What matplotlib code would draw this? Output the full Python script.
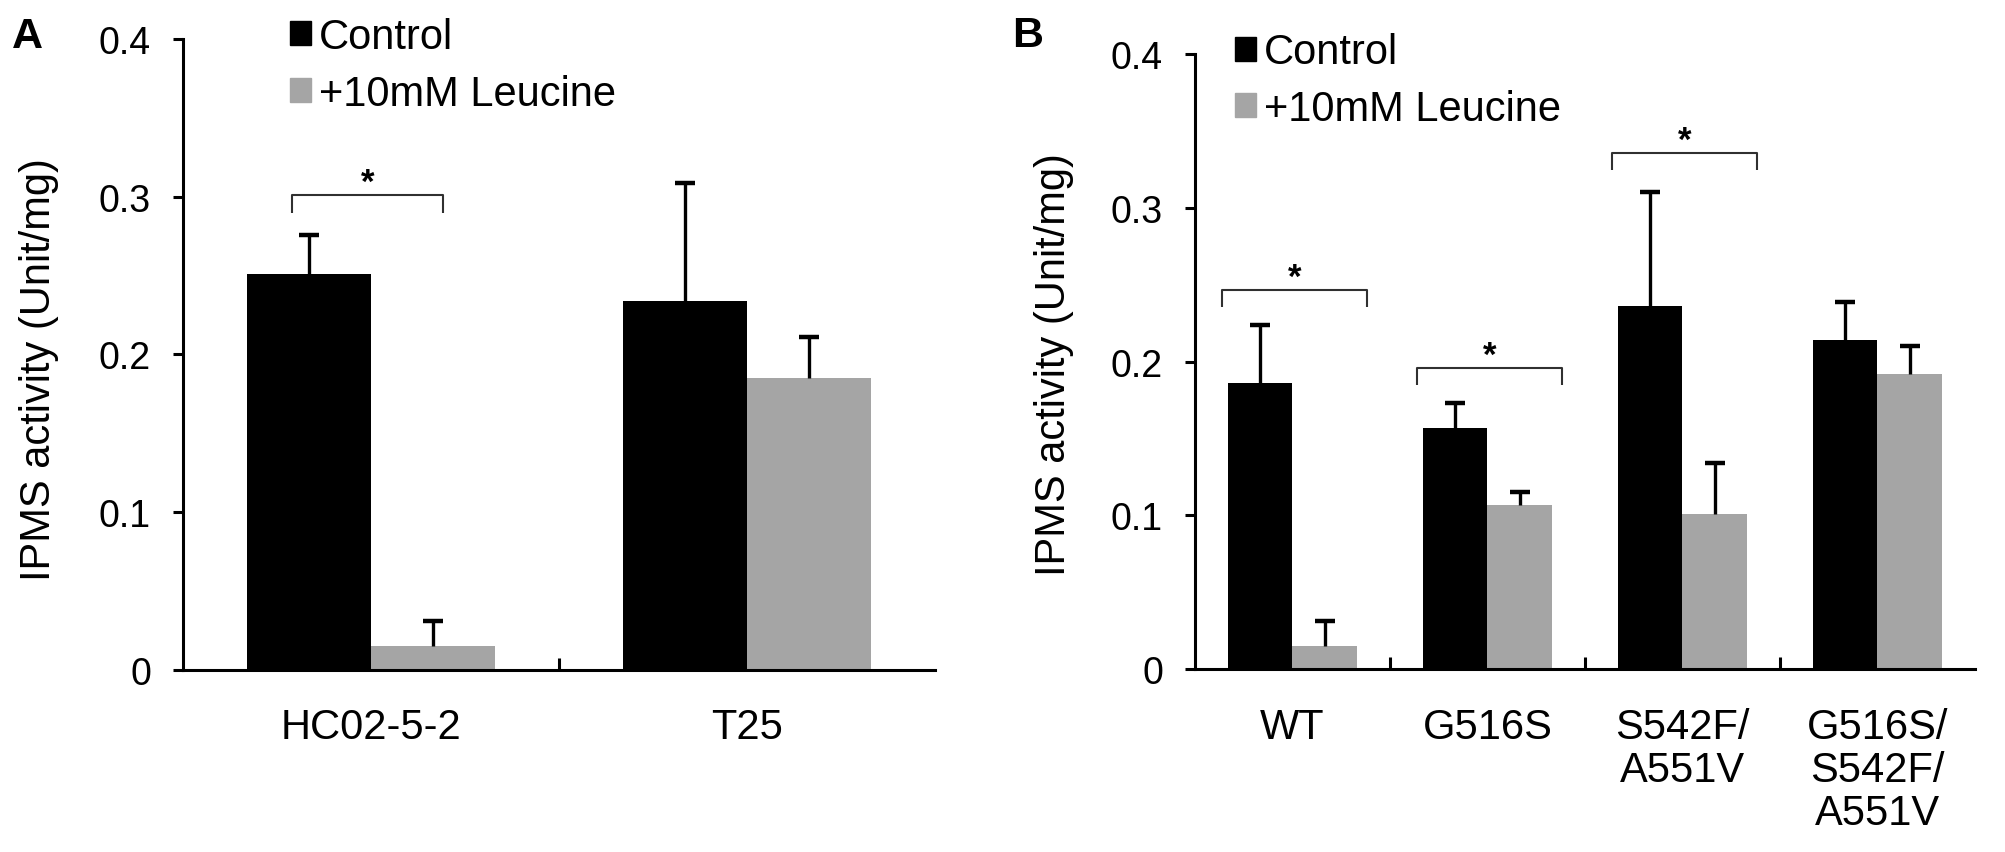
import numpy as np
import matplotlib
matplotlib.use('Agg')
import matplotlib.pyplot as plt
from matplotlib.patches import Patch

plt.rcParams['font.family'] = ['Liberation Sans', 'DejaVu Sans']

# panel A data
cats_a = ['HC02-5-2', 'T25']
ctrl_a = [0.251, 0.234]
ctrl_err_a = [0.025, 0.075]
leu_a = [0.015, 0.185]
leu_err_a = [0.016, 0.026]
# significance brackets: (category, bracket y)
sig_a = [(0, 0.301)]

# panel B data
cats_b = ['WT', 'G516S', 'S542F/\nA551V', 'G516S/\nS542F/\nA551V']
ctrl_b = [0.186, 0.157, 0.236, 0.214]
ctrl_err_b = [0.038, 0.016, 0.074, 0.025]
leu_b = [0.015, 0.107, 0.101, 0.192]
leu_err_b = [0.016, 0.008, 0.033, 0.018]
sig_b = [(0, 0.2465), (1, 0.196), (2, 0.3356)]

legend_labels = ['Control', '+10mM Leucine']
ylabel = 'IPMS activity (Unit/mg)'
yticks = [0, 0.1, 0.2, 0.3, 0.4]
ytick_labels = ['0', '0.1', '0.2', '0.3', '0.4']

BLACK = '#000000'
GRAY = '#a5a5a5'
W = 0.33

fig = plt.figure(figsize=(20.05, 8.53), dpi=100)
ax_a = fig.add_axes([0.0913, 0.2134, 0.3751, 0.7397])
ax_b = fig.add_axes([0.5960, 0.2145, 0.3890, 0.7210])


def draw_panel(ax, cats, ctrl, ctrl_err, leu, leu_err, sigs, br_off, leg_x, lab_x, lab_y):
    x = np.arange(len(cats))
    ekw = dict(elinewidth=2.4, capsize=7, capthick=3.2, ecolor='black')
    for off, vals, errs, col, lab in [(-W/2, ctrl, ctrl_err, BLACK, legend_labels[0]),
                                      (W/2, leu, leu_err, GRAY, legend_labels[1])]:
        b = ax.bar(x + off, vals, W, color=col, label=lab,
                   yerr=[np.zeros(len(x)), errs], error_kw=ekw, zorder=2)
        # only the upper cap, like the original
        caps = b.errorbar.lines[1]
        if len(caps) > 1:
            caps[0].set_visible(False)
    for c, yb in sigs:
        xl, xr = c + br_off[0], c + br_off[1]
        ax.plot([xl, xl, xr, xr], [yb - 0.011, yb, yb, yb - 0.011],
                color='#303030', lw=1.5, solid_capstyle='butt')
        ax.text((xl + xr)/2, yb + 0.002, '*', ha='center', va='baseline',
                fontsize=25, fontweight='bold')
    ax.set_xlim(-0.5, len(cats) - 0.5)
    ax.set_ylim(0, 0.4)
    for s in ['top', 'right']:
        ax.spines[s].set_visible(False)
    for s in ['left', 'bottom']:
        ax.spines[s].set_linewidth(2.2)
    ax.set_yticks(yticks)
    ax.set_yticklabels(ytick_labels)
    ax.tick_params(axis='y', direction='out', length=7, width=2.2,
                   labelsize=27, pad=16)
    ax.set_xticks(x)
    ax.set_xticklabels(cats, fontsize=30, linespacing=1.1)
    ax.tick_params(axis='x', which='major', length=0, pad=27)
    ax.set_xticks(x[:-1] + 0.5, minor=True)
    ax.tick_params(axis='x', which='minor', direction='in', length=8.5, width=2.2)
    ax.set_ylabel(ylabel, fontsize=30)
    ax.yaxis.set_label_coords(lab_x, lab_y)
    ax.legend(handles=[Patch(color=BLACK), Patch(color=GRAY)], labels=legend_labels,
              loc='upper left', bbox_to_anchor=(leg_x, 1.035), frameon=False,
              fontsize=30, handlelength=0.5, handleheight=0.5,
              handletextpad=0.2, labelspacing=0.4, borderaxespad=0,
              borderpad=0)


draw_panel(ax_a, cats_a, ctrl_a, ctrl_err_a, leu_a, leu_err_a, sig_a,
           (-0.21, 0.19), 0.142, -0.165, 0.477)
draw_panel(ax_b, cats_b, ctrl_b, ctrl_err_b, leu_b, leu_err_b, sig_b,
           (-0.36, 0.38), 0.051, -0.155, 0.496)

fig.text(12/2005, 1 - 48/853, 'A', fontsize=31, fontweight='bold')
fig.text(1012/2005, 1 - 47/853, 'B', fontsize=31, fontweight='bold')

plt.savefig('out.png', dpi=100)
